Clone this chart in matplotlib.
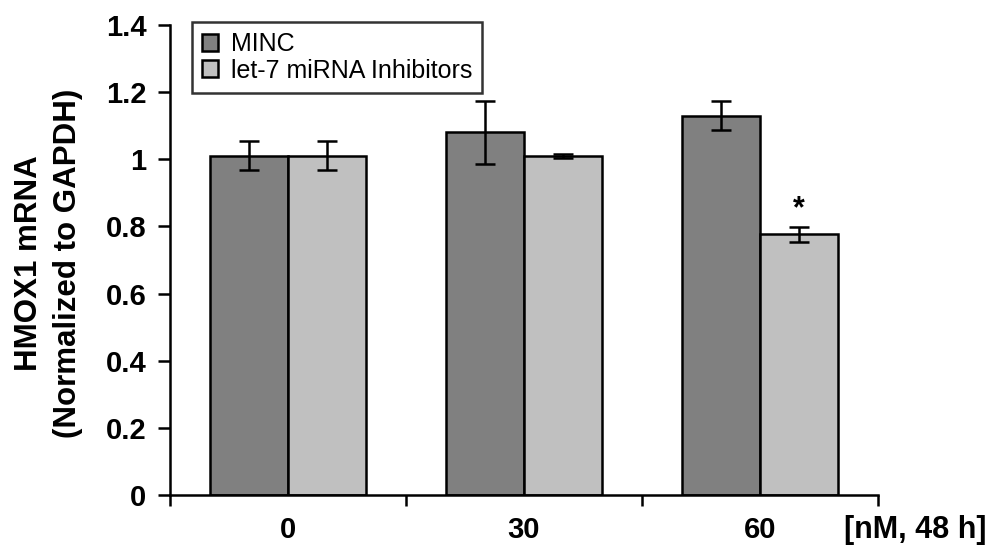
import matplotlib.pyplot as plt
import numpy as np

plt.rcParams['font.family'] = 'Liberation Sans'

doses = ['0', '30', '60']
minc = [1.01, 1.08, 1.13]
minc_err = [0.043, 0.095, 0.043]
inhib = [1.01, 1.01, 0.777]
inhib_err = [0.043, 0.005, 0.022]
series_names = ['MINC', 'let-7 miRNA Inhibitors']

fig = plt.figure(figsize=(9.97, 5.48), dpi=100)
ax = fig.add_axes([0.1705, 0.0967, 0.71, 0.8577])

x = np.arange(len(doses))
w = 0.33
err_kw = dict(ecolor='black', elinewidth=1.8, capsize=7, capthick=1.8)
ax.bar(x - w / 2, minc, w, yerr=minc_err, color='#808080', edgecolor='black',
       linewidth=1.8, error_kw=err_kw, label=series_names[0])
ax.bar(x + w / 2, inhib, w, yerr=inhib_err, color='#c0c0c0', edgecolor='black',
       linewidth=1.8, error_kw=err_kw, label=series_names[1])

# significance marker over the 60 nM inhibitor bar
ax.text(x[2] + w / 2, inhib[2] + inhib_err[2] + 0.008, '*', ha='center', va='bottom',
        fontsize=22, fontweight='bold')

ax.set_xlim(-0.5, 2.5)
ax.set_ylim(0, 1.4)
ax.set_yticks(np.arange(0, 1.41, 0.2))
ax.set_yticklabels(['0', '0.2', '0.4', '0.6', '0.8', '1', '1.2', '1.4'])
ax.set_xticks([-0.5, 0.5, 1.5, 2.5])
ax.set_xticklabels([])
ax.set_xticks(x, minor=True)
ax.set_xticklabels(doses, minor=True)
ax.tick_params(axis='x', which='minor', length=0, pad=15, labelsize=21)
ax.tick_params(axis='x', which='major', direction='out', length=8, width=1.8)
ax.tick_params(axis='y', direction='out', length=9, width=1.8, labelsize=21, pad=8)
for lbl in ax.get_yticklabels() + ax.get_xticklabels(minor=True):
    lbl.set_fontweight('bold')

for s in ['top', 'right']:
    ax.spines[s].set_visible(False)
for s in ['left', 'bottom']:
    ax.spines[s].set_linewidth(1.8)

ax.set_ylabel('HMOX1 mRNA\n(Normalized to GAPDH)', fontsize=22.5, fontweight='bold',
              linespacing=1.35)
ax.yaxis.label.set_va('center')
ax.yaxis.set_label_coords(-0.1716, 0.493)

fig.text(0.847, 0.033, '[nM, 48 h]', fontsize=22, fontweight='bold', ha='left', va='center')

leg = ax.legend(loc='upper left', bbox_to_anchor=(192 / 997, 1 - 22 / 548),
                bbox_transform=fig.transFigure, fontsize=18, frameon=True, fancybox=False,
                handlelength=0.65, handleheight=0.65, handletextpad=0.5, borderpad=0.4,
                labelspacing=0.1, borderaxespad=0)
leg.get_frame().set_edgecolor('black')
leg.get_frame().set_linewidth(1.8)

fig.savefig('out.png', dpi=100)
